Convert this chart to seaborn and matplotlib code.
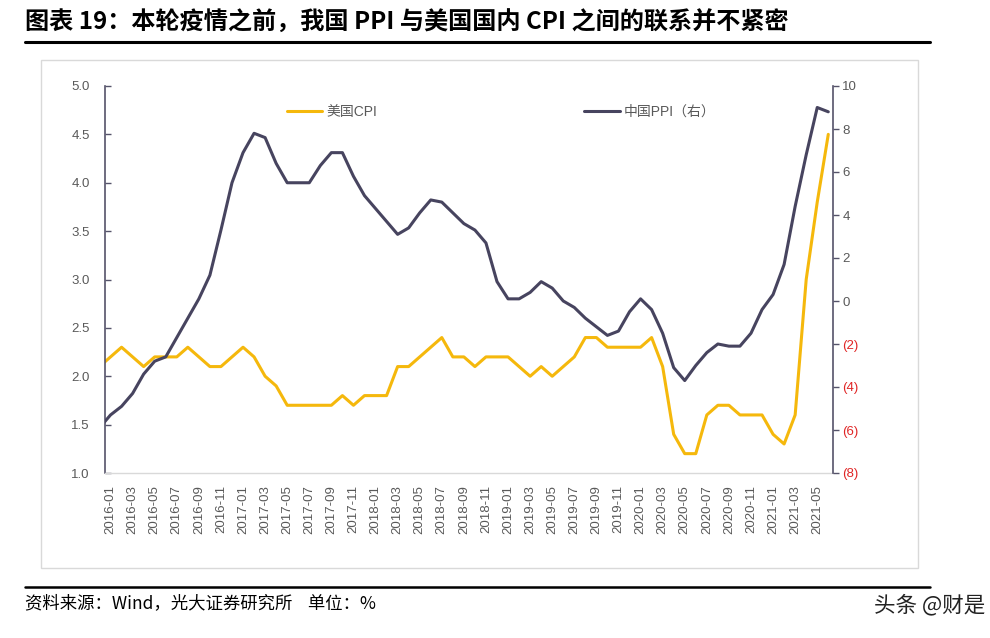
import matplotlib
matplotlib.use("Agg")
import matplotlib.pyplot as plt
from matplotlib.lines import Line2D
from matplotlib.patches import Rectangle
import numpy as np
import pandas as pd
import seaborn as sns

# monthly data 2015-12 .. 2021-06 (2015-12 sits just left of the axis, clipped)
months = pd.period_range("2015-12", "2021-06", freq="M").strftime("%Y-%m").tolist()

us_cpi = [2.1,
          2.2, 2.3, 2.2, 2.1, 2.2, 2.2, 2.2, 2.3, 2.2, 2.1, 2.1, 2.2,
          2.3, 2.2, 2.0, 1.9, 1.7, 1.7, 1.7, 1.7, 1.7, 1.8, 1.7, 1.8,
          1.8, 1.8, 2.1, 2.1, 2.2, 2.3, 2.4, 2.2, 2.2, 2.1, 2.2, 2.2,
          2.2, 2.1, 2.0, 2.1, 2.0, 2.1, 2.2, 2.4, 2.4, 2.3, 2.3, 2.3,
          2.3, 2.4, 2.1, 1.4, 1.2, 1.2, 1.6, 1.7, 1.7, 1.6, 1.6, 1.6,
          1.4, 1.3, 1.6, 3.0, 3.8, 4.5]

cn_ppi = [-5.9,
          -5.3, -4.9, -4.3, -3.4, -2.8, -2.6, -1.7, -0.8, 0.1, 1.2, 3.3, 5.5,
          6.9, 7.8, 7.6, 6.4, 5.5, 5.5, 5.5, 6.3, 6.9, 6.9, 5.8, 4.9,
          4.3, 3.7, 3.1, 3.4, 4.1, 4.7, 4.6, 4.1, 3.6, 3.3, 2.7, 0.9,
          0.1, 0.1, 0.4, 0.9, 0.6, 0.0, -0.3, -0.8, -1.2, -1.6, -1.4, -0.5,
          0.1, -0.4, -1.5, -3.1, -3.7, -3.0, -2.4, -2.0, -2.1, -2.1, -1.5, -0.4,
          0.3, 1.7, 4.4, 6.8, 9.0, 8.8]

left_ticks = [1.0, 1.5, 2.0, 2.5, 3.0, 3.5, 4.0, 4.5, 5.0]
right_ticks = [-8, -6, -4, -2, 0, 2, 4, 6, 8, 10]
right_labels = ["(8)", "(6)", "(4)", "(2)", "0", "2", "4", "6", "8", "10"]

title = "图表 19：本轮疫情之前，我国 PPI 与美国国内 CPI 之间的联系并不紧密"
source = "资料来源：Wind，光大证券研究所    单位：%"

CPI_C = "#F5B80C"
PPI_C = "#47445F"
AXIS_C = "#55536A"
GRAY_TXT = "#595959"

df = pd.DataFrame({"month": months, "pos": np.arange(len(months)) - 1,
                   "cpi": us_cpi, "ppi": cn_ppi})

sns.set_style("white")
plt.rcParams["font.family"] = ["Liberation Sans", "Noto Sans CJK SC"]

W, H = 990, 638
fig = plt.figure(figsize=(9.9, 6.38), dpi=100)
ax = fig.add_axes([105 / W, 1 - 473 / H, (832.7 - 105) / W, (473 - 86) / H])
ax2 = ax.twinx()

sns.lineplot(data=df, x="pos", y="cpi", ax=ax, color=CPI_C, lw=2.2, legend=False)
sns.lineplot(data=df, x="pos", y="ppi", ax=ax2, color=PPI_C, lw=2.2, legend=False)

ax.set_xlim(-0.5, 65.4)
ax.set_ylim(1, 5)
ax2.set_ylim(-8, 10)
for a in (ax, ax2):
    a.set_xlabel("")
    a.set_ylabel("")
    a.grid(False)

# x axis: labels every 2 months, tick marks between categories
lab = df.iloc[1::2]
ax.set_xticks(lab["pos"])
ax.set_xticklabels(lab["month"], rotation=90)
ax.set_xticks(np.arange(-0.5, 65, 2), minor=True)
ax.tick_params(axis="x", which="major", length=0, pad=8.5, labelsize=9.5, labelcolor=GRAY_TXT)
ax.tick_params(axis="x", which="minor", length=5, width=1, color="#D9D9D9", direction="out")

# left axis
ax.set_yticks(left_ticks)
ax.set_yticklabels([f"{v:.1f}" for v in left_ticks])
ax.tick_params(axis="y", direction="in", length=4, width=1, color=AXIS_C,
               pad=11, labelsize=9.5, labelcolor=GRAY_TXT, left=True)

# right axis
ax2.set_yticks(right_ticks)
ax2.set_yticklabels(right_labels)
ax2.tick_params(axis="y", direction="out", length=4, width=1, color=AXIS_C,
                pad=3, labelsize=9.5, right=True)
for t, v in zip(ax2.get_yticklabels(), right_ticks):
    t.set_color("#E02525" if v < 0 else GRAY_TXT)

for s in ("top", "right"):
    ax.spines[s].set_visible(False)
ax.spines["left"].set_color(AXIS_C)
ax.spines["left"].set_linewidth(1.2)
ax.spines["bottom"].set_color("#D9D9D9")
ax.spines["bottom"].set_linewidth(1)
for s in ("top", "left", "bottom"):
    ax2.spines[s].set_visible(False)
ax2.spines["right"].set_color(AXIS_C)
ax2.spines["right"].set_linewidth(1.2)

handles = [Line2D([], [], color=CPI_C, lw=2.2), Line2D([], [], color=PPI_C, lw=2.2)]
leg = ax2.legend(handles, ["美国CPI", "中国PPI（右）"], ncol=2, loc="center left",
                 bbox_to_anchor=(0.2496, 0.9336), frameon=False, fontsize=10,
                 handlelength=2.56, handletextpad=0.3, columnspacing=14.9,
                 borderpad=0, borderaxespad=0)
for t in leg.get_texts():
    t.set_color(GRAY_TXT)

# frame, title, rules and footer
fig.add_artist(Rectangle((40.7 / W, 1 - 568 / H), (918 - 40.7) / W, (568 - 60) / H,
                         fill=False, edgecolor="#D9D9D9", lw=1, transform=fig.transFigure))
fig.text(25 / W, 1 - 23 / H, title, fontsize=17.4, fontweight="bold", ha="left", va="center",
         family=["Noto Sans CJK SC"], color="black")
fig.add_artist(Line2D([25 / W, 930 / W], [1 - 42 / H] * 2, color="black", lw=2.2,
                      transform=fig.transFigure))
fig.add_artist(Line2D([25 / W, 930 / W], [1 - 587 / H] * 2, color="black", lw=1.8,
                      transform=fig.transFigure))
fig.text(25 / W, 1 - 603 / H, source, fontsize=12.5, ha="left", va="center",
         family=["Noto Sans CJK SC"], color="black")
fig.text(985 / W, 1 - 605 / H, "头条 @财是", fontsize=15.5, ha="right", va="center",
         family=["Noto Sans CJK SC"], color="#222222")

fig.savefig("out.png", dpi=100)
